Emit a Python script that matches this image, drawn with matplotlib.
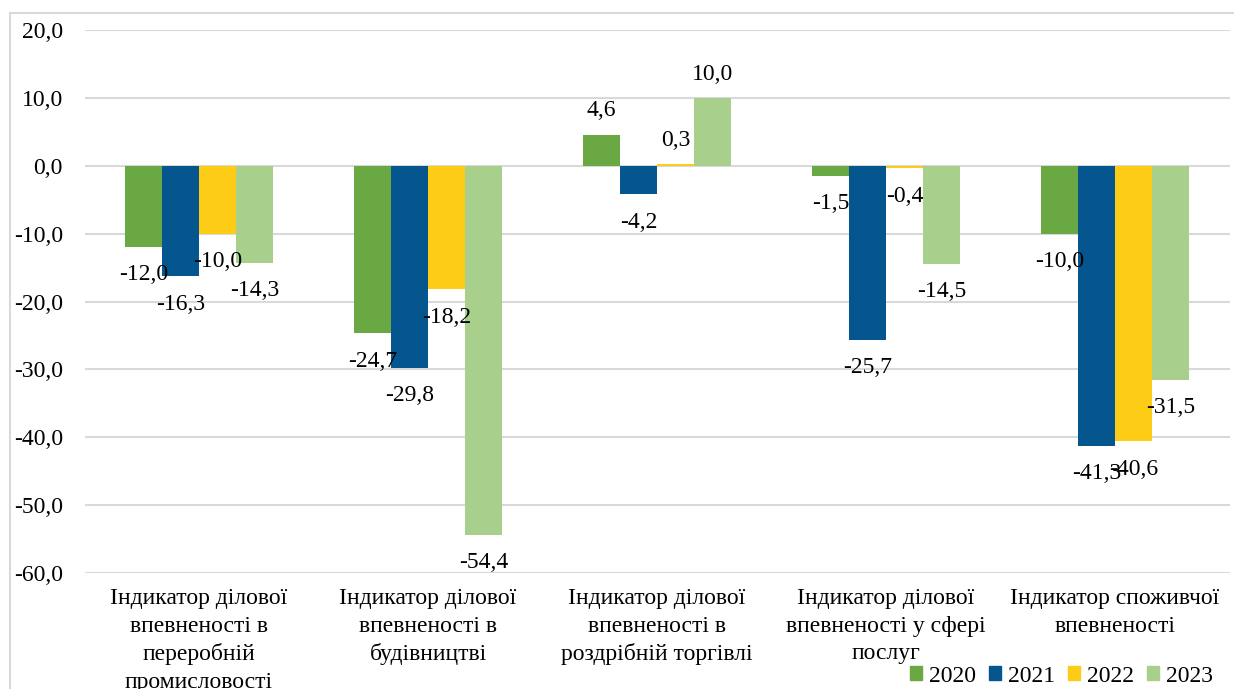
import matplotlib
matplotlib.use("Agg")
import matplotlib.pyplot as plt
import matplotlib.ticker as ticker
import matplotlib.patches as mpatches
import numpy as np

categories = [
    "Індикатор ділової\nвпевненості в\nпереробній\nпромисловості",
    "Індикатор ділової\nвпевненості в\nбудівництві",
    "Індикатор ділової\nвпевненості в\nроздрібній торгівлі",
    "Індикатор ділової\nвпевненості у сфері\nпослуг",
    "Індикатор споживчої\nвпевненості",
]
years = ["2020", "2021", "2022", "2023"]
v2020 = [-12.0, -24.7, 4.6, -1.5, -10.0]
v2021 = [-16.3, -29.8, -4.2, -25.7, -41.3]
v2022 = [-10.0, -18.2, 0.3, -0.4, -40.6]
v2023 = [-14.3, -54.4, 10.0, -14.5, -31.5]
series = [v2020, v2021, v2022, v2023]
colors = ["#6AA843", "#05568E", "#FCCC17", "#A8D08C"]

plt.rcParams['font.family'] = ['Liberation Serif', 'DejaVu Serif']
FS = 17

fig = plt.figure(figsize=(12.34, 6.89), dpi=100)
ax = fig.add_axes([85/1234, 1-573/689, (1230-85)/1234, (573-30)/689])

# chart border
fig.patches.append(mpatches.Rectangle((10/1234, -0.05), 1.1, 1-13/689+0.05,
                                      transform=fig.transFigure, fill=False,
                                      edgecolor='#D9D9D9', linewidth=1.5, zorder=0))

x = np.arange(len(categories))
w = 0.161
fmt = lambda v: f"{v:.1f}".replace('.', ',')

for i, (vals, c, yr) in enumerate(zip(series, colors, years)):
    pos = x + (i - 1.5) * w
    ax.bar(pos, vals, width=w, color=c, label=yr, zorder=3)
    for p, v in zip(pos, vals):
        off = 17 if v >= 0 else -20
        ax.annotate(fmt(v), (p, v), xytext=(0, off), textcoords='offset points',
                    ha='center', va='center', fontsize=FS, color='#000000', zorder=5)

ax.set_ylim(-60, 20)
ax.set_xlim(-0.498, 4.502)
ax.yaxis.set_major_locator(ticker.MultipleLocator(10))
ax.yaxis.set_major_formatter(ticker.FuncFormatter(lambda v, p: fmt(v)))
ax.grid(axis='y', color='#D9D9D9', linewidth=1.5, zorder=0)
ax.set_axisbelow(True)
for s in ax.spines.values():
    s.set_visible(False)
ax.tick_params(axis='y', length=0, pad=16, labelsize=FS)
ax.tick_params(axis='x', length=0, pad=11, labelsize=FS)
ax.set_xticks(x)
ax.set_xticklabels(categories, linespacing=1.4)

handles = [mpatches.Patch(color=c, label=yr) for c, yr in zip(colors, years)]
fig.legend(handles=handles, loc='center right', bbox_to_anchor=(1213/1234, 1-676/689),
           ncol=4, frameon=False, fontsize=FS, handlelength=0.5, handleheight=0.5,
           handletextpad=0.3, columnspacing=0.55, borderaxespad=0, borderpad=0)

fig.savefig("out.png", dpi=100)
